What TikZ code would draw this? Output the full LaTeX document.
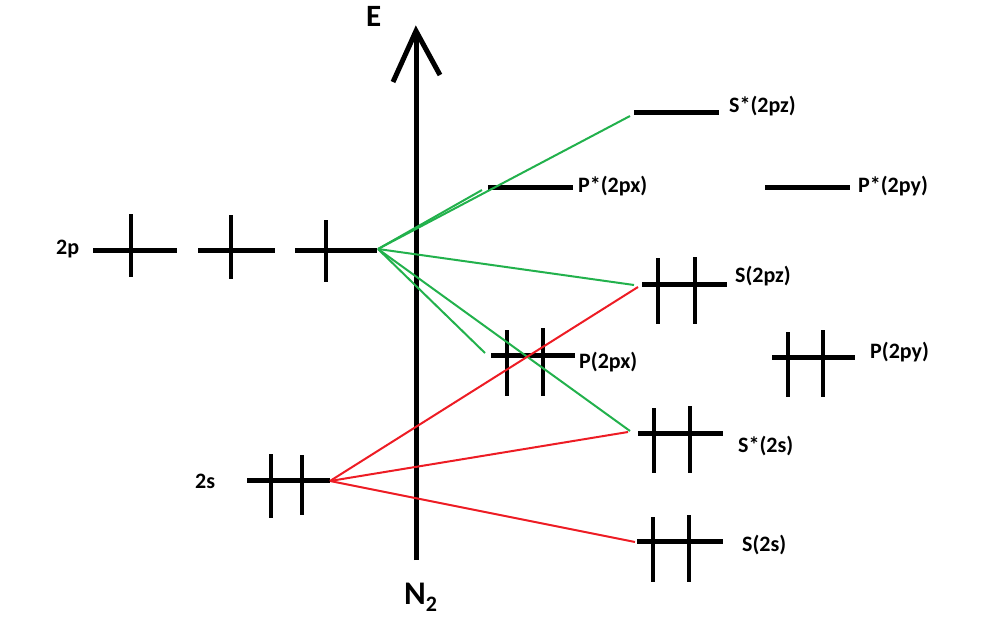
\documentclass[tikz,border=0pt]{standalone}
\usepackage{fontspec}
\setmainfont{Carlito}
\definecolor{pgreen}{HTML}{22B14C}
\definecolor{pred}{HTML}{ED1C24}
\begin{document}
\begin{tikzpicture}[x=1pt,y=-1pt,
  level/.style={line width=5pt},
  spin/.style={line width=3.3pt},
  axisline/.style={line width=5pt},
  lbl/.style={font=\fontsize{22}{22}\selectfont\bfseries, inner sep=0pt, anchor=base west},
  gline/.style={draw=pgreen, line width=2pt},
  rline/.style={draw=pred, line width=2pt}]
\useasboundingbox (0,0) rectangle (983,634);

% axis
\coordinate (axB) at (416,560);
\coordinate (axT) at (416,31);
\coordinate (arL) at (393,82);
\coordinate (arR) at (440,75);
\draw[axisline] (axB) -- (axT);
\draw[axisline, line join=miter] (arL) -- (axT) -- (arR);
\node[font=\fontsize{31}{31}\selectfont\bfseries, inner sep=0pt, anchor=base west] (E) at (366,27) {E};
\node[inner sep=0pt, anchor=base west] (N2) at (404,604) {\fontsize{33}{33}\selectfont\bfseries N\raisebox{-7pt}{\fontsize{22}{22}\selectfont 2}};

% 2p atomic levels
\coordinate (pa1) at (93,250);  \coordinate (pb1) at (177,250);
\coordinate (pa2) at (198,250); \coordinate (pb2) at (275,250);
\coordinate (pa3) at (295,250); \coordinate (pb3) at (377,250);
\draw[level] (pa1) -- (pb1);
\draw[level] (pa2) -- (pb2);
\draw[level] (pa3) -- (pb3);
\draw[spin] (131,214) -- (131,277);
\draw[spin] (231,215) -- (231,279);
\draw[spin] (326,220) -- (326,282);
\node[lbl] (l2p) at (56,254) {2p};

% 2s atomic level
\coordinate (sa) at (247,480); \coordinate (sb) at (330,480);
\draw[level] (sa) -- (sb);
\draw[spin] (271,454) -- (271,518);
\draw[spin] (302,455) -- (302,515);
\node[lbl] (l2s) at (195,488) {2s};

% S*(2pz)
\coordinate (szsa) at (634,112); \coordinate (szsb) at (719,112);
\draw[level] (szsa) -- (szsb);
\node[lbl] (lszs) at (729,113) {S*(2pz)};

% P*(2px)
\coordinate (pxsa) at (488,187); \coordinate (pxsb) at (573,187);
\draw[level] (pxsa) -- (pxsb);
\node[lbl] (lpxs) at (578,192) {P*(2px)};

% P*(2py)
\coordinate (pysa) at (765,187); \coordinate (pysb) at (850,187);
\draw[level] (pysa) -- (pysb);
\node[lbl] (lpys) at (858,192) {P*(2py)};

% S(2pz)
\coordinate (sza) at (642,284); \coordinate (szb) at (727,284);
\draw[level] (sza) -- (szb);
\draw[spin] (658,258) -- (658,324);
\draw[spin] (695,257) -- (695,324);
\node[lbl] (lsz) at (735,282) {S(2pz)};

% P(2px)
\coordinate (pxa) at (491,355); \coordinate (pxb) at (575,355);
\draw[level] (pxa) -- (pxb);
\draw[spin] (507,330) -- (507,396);
\draw[spin] (543,328) -- (543,396);
\node[lbl] (lpx) at (579,368) {P(2px)};

% P(2py)
\coordinate (pya) at (772,357); \coordinate (pyb) at (855,357);
\draw[level] (pya) -- (pyb);
\draw[spin] (788,332) -- (788,397);
\draw[spin] (823,330) -- (823,397);
\node[lbl] (lpy) at (870,358) {P(2py)};

% S*(2s)
\coordinate (ssa) at (638,433); \coordinate (ssb) at (723,433);
\draw[level] (ssa) -- (ssb);
\draw[spin] (654,408) -- (654,473);
\draw[spin] (690,406) -- (690,473);
\node[lbl] (lss) at (738,452) {S*(2s)};

% S(2s)
\coordinate (s2a) at (637,541); \coordinate (s2b) at (723,541);
\draw[level] (s2a) -- (s2b);
\draw[spin] (653,517) -- (653,582);
\draw[spin] (689,515) -- (689,582);
\node[lbl] (ls2) at (742,551) {S(2s)};

% green correlation lines from 2p
\coordinate (hubp) at (378,249);
\coordinate (gE1) at (630,116);
\coordinate (gE2) at (482,190);
\coordinate (gE3) at (634,285);
\coordinate (gE4) at (485,353);
\coordinate (gE5) at (630,431);
\draw[gline] (hubp) -- (gE1);
\draw[gline] (hubp) -- (gE2);
\draw[gline] (hubp) -- (gE3);
\draw[gline] (hubp) -- (gE4);
\draw[gline] (hubp) -- (gE5);

% red correlation lines from 2s
\coordinate (hubs) at (330,481);
\coordinate (rE1) at (638,287);
\coordinate (rE2) at (628,432);
\coordinate (rE3) at (635,542);
\draw[rline] (hubs) -- (rE1);
\draw[rline] (hubs) -- (rE2);
\draw[rline] (hubs) -- (rE3);
\end{tikzpicture}
\end{document}
